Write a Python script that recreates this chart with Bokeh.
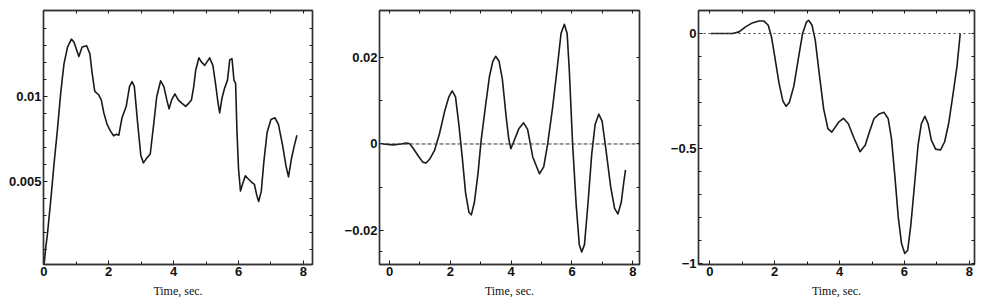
import numpy as np
from bokeh.plotting import figure
from bokeh.models import Range1d, FixedTicker, LinearAxis, Span
from bokeh.layouts import row
from bokeh.embed import file_html
from bokeh.resources import INLINE

# ---------------- data ----------------
t1 = [0.01, 0.06, 0.11, 0.21, 0.32, 0.42, 0.52, 0.62, 0.73, 0.85, 0.93, 1.08, 1.18, 1.32,
      1.42, 1.49, 1.57, 1.69, 1.77, 1.85, 1.95, 2.05, 2.15, 2.24, 2.31, 2.41, 2.54, 2.64,
      2.72, 2.79, 2.89, 2.99, 3.07, 3.17, 3.28, 3.38, 3.48, 3.60, 3.70, 3.79, 3.86, 3.94,
      4.04, 4.14, 4.25, 4.37, 4.47, 4.55, 4.62, 4.68, 4.78, 4.86, 4.96, 5.11, 5.21, 5.29,
      5.37, 5.42, 5.49, 5.57, 5.66, 5.73, 5.80, 5.86, 5.91, 5.95, 6.00, 6.06, 6.13, 6.21,
      6.29, 6.39, 6.49, 6.56, 6.62, 6.70, 6.78, 6.88, 7.00, 7.12, 7.23, 7.36, 7.46, 7.54,
      7.63, 7.72, 7.80]
y1 = [0.00017, 0.00113, 0.0019, 0.00383, 0.00614, 0.00807, 0.0102, 0.0119, 0.0129, 0.01337,
      0.01318, 0.01235, 0.0129, 0.01298, 0.0125, 0.01135, 0.0103, 0.0101, 0.0098, 0.00903,
      0.00836, 0.00798, 0.00769, 0.00778, 0.00772, 0.00875, 0.00942, 0.01058, 0.01087,
      0.01058, 0.00846, 0.00653, 0.0061, 0.00638, 0.00662, 0.00827, 0.0100, 0.01092, 0.01058,
      0.0098, 0.00927, 0.0098, 0.01015, 0.0098, 0.00961, 0.00942, 0.00961, 0.0098, 0.01058,
      0.01154, 0.01227, 0.01202, 0.01183, 0.01227, 0.01183, 0.01077, 0.00961, 0.00903,
      0.0099, 0.01048, 0.01096, 0.01216, 0.01221, 0.01096, 0.01077, 0.00807, 0.00576,
      0.00445, 0.00489, 0.00534, 0.00518, 0.00499, 0.00483, 0.00422, 0.00383, 0.00441,
      0.00614, 0.00788, 0.00865, 0.00875, 0.00836, 0.00711, 0.00595, 0.00528, 0.00634,
      0.00711, 0.00772]

t2 = [-0.22, 0.11, 0.38, 0.54, 0.65, 0.76, 0.93, 1.09, 1.20, 1.33, 1.48, 1.64, 1.81, 1.95,
      2.06, 2.17, 2.28, 2.39, 2.50, 2.61, 2.69, 2.79, 2.91, 3.01, 3.16, 3.29, 3.40, 3.49,
      3.60, 3.71, 3.84, 3.92, 3.99, 4.10, 4.25, 4.41, 4.54, 4.71, 4.93, 5.07, 5.20, 5.36,
      5.51, 5.64, 5.75, 5.84, 5.91, 6.02, 6.14, 6.24, 6.32, 6.41, 6.52, 6.65, 6.76, 6.88,
      6.99, 7.12, 7.27, 7.40, 7.51, 7.62, 7.70, 7.76]
y2 = [0.0, -0.0002, 0.0, 0.0002, 0.0001, -0.0008, -0.0026, -0.0042, -0.0044, -0.0034,
      -0.0015, 0.0023, 0.0075, 0.0109, 0.0123, 0.0109, 0.0045, -0.0030, -0.0113, -0.0158,
      -0.0164, -0.0135, -0.0068, 0.0007, 0.0090, 0.0158, 0.0192, 0.0203, 0.0192, 0.0150,
      0.0060, 0.0012, -0.0011, 0.0008, 0.0035, 0.0049, 0.0034, -0.0030, -0.0069, -0.0053,
      0.0, 0.0083, 0.0173, 0.0256, 0.0277, 0.0256, 0.0173, 0.0, -0.0143, -0.0233, -0.0250,
      -0.0233, -0.0143, -0.0023, 0.0045, 0.0069, 0.0053, -0.0015, -0.0098, -0.0149, -0.0162,
      -0.0135, -0.0090, -0.0060]

t3 = [0.03, 0.39, 0.70, 0.90, 1.10, 1.31, 1.51, 1.67, 1.80, 1.90, 2.00, 2.13, 2.25, 2.35,
      2.45, 2.59, 2.74, 2.86, 2.98, 3.05, 3.15, 3.25, 3.37, 3.51, 3.64, 3.76, 3.97, 4.12,
      4.27, 4.45, 4.63, 4.79, 4.92, 5.06, 5.22, 5.37, 5.50, 5.60, 5.71, 5.81, 5.91, 6.01,
      6.10, 6.20, 6.32, 6.42, 6.52, 6.63, 6.73, 6.83, 6.96, 7.11, 7.24, 7.37, 7.49, 7.62,
      7.72]
y3 = [0.0, 0.0, 0.0, 0.007, 0.029, 0.046, 0.054, 0.054, 0.036, -0.014, -0.100, -0.214,
      -0.293, -0.317, -0.300, -0.229, -0.100, 0.0, 0.050, 0.057, 0.036, -0.029, -0.171,
      -0.329, -0.414, -0.429, -0.386, -0.369, -0.393, -0.457, -0.514, -0.486, -0.429,
      -0.371, -0.350, -0.343, -0.371, -0.457, -0.629, -0.800, -0.914, -0.957, -0.943,
      -0.829, -0.643, -0.486, -0.393, -0.360, -0.393, -0.464, -0.503, -0.507, -0.471,
      -0.386, -0.271, -0.143, 0.0]

x_ticks = [0, 2, 4, 6, 8]
x_labels = {0: "0", 2: "2", 4: "4", 6: "6", 8: "8"}
y1_ticks = [0.005, 0.01]
y1_labels = {0.005: "0.005", 0.01: "0.01"}
y2_ticks = [-0.02, 0.0, 0.02]
y2_labels = {-0.02: "\u22120.02", 0: "0", 0.02: "0.02"}
y3_ticks = [-1.0, -0.5, 0.0]
y3_labels = {-1: "\u22121", -0.5: "\u22120.5", 0: "0"}

LABEL_FONT = "Liberation Sans"
TITLE_FONT = "Liberation Serif"
INK = "#1a1a1a"
FRAME = "#333333"


def style_axis(ax, show_labels):
    ax.axis_line_color = FRAME
    ax.axis_line_width = 1.4
    ax.major_tick_in = 4
    ax.major_tick_out = 0
    ax.minor_tick_in = 3
    ax.minor_tick_out = 0
    ax.major_tick_line_color = INK
    ax.minor_tick_line_color = INK
    if show_labels:
        ax.major_label_text_font = LABEL_FONT
        ax.major_label_text_font_style = "bold"
        ax.major_label_text_font_size = "13px"
        ax.major_label_text_color = "#111111"
        ax.major_label_standoff = 2
    else:
        ax.major_label_standoff = 0


def make_panel(t, y, xr, yr, yticks, yminor, ylabels, width, left, right, top, bottom):
    p = figure(width=width, height=305, output_backend="svg", toolbar_location=None,
               x_range=Range1d(*xr), y_range=Range1d(*yr),
               min_border_left=left, min_border_right=right,
               min_border_top=top, min_border_bottom=bottom)
    p.background_fill_color = "white"
    p.border_fill_color = "white"
    p.outline_line_color = FRAME
    p.outline_line_width = 1.4
    p.grid.visible = False

    x_minor = [1, 3, 5, 7]
    xa = p.xaxis[0]
    xa.ticker = FixedTicker(ticks=x_ticks, minor_ticks=x_minor)
    xa.major_label_overrides = x_labels
    style_axis(xa, True)
    xa.axis_label = "Time, sec."
    xa.axis_label_text_font = TITLE_FONT
    xa.axis_label_text_font_style = "normal"
    xa.axis_label_text_font_size = "12px"
    xa.axis_label_text_color = "#111111"
    xa.axis_label_standoff = 5

    ya = p.yaxis[0]
    ya.ticker = FixedTicker(ticks=yticks, minor_ticks=yminor)
    ya.major_label_overrides = ylabels
    style_axis(ya, True)

    # top and right axes: tick marks only (all as minor ticks, so no labels)
    top_ax = LinearAxis(ticker=FixedTicker(ticks=[], minor_ticks=sorted(x_ticks + x_minor)))
    style_axis(top_ax, False)
    p.add_layout(top_ax, "above")
    right_ax = LinearAxis(ticker=FixedTicker(ticks=[], minor_ticks=sorted(yticks + yminor)))
    style_axis(right_ax, False)
    p.add_layout(right_ax, "right")

    p.line(t, y, line_color=INK, line_width=1.6, line_join="round")
    return p


p1 = make_panel(t1, y1, (-0.01, 8.28), (0.00013, 0.01505), y1_ticks,
                [v for v in np.round(np.arange(0.001, 0.015, 0.001), 4).tolist()
                 if v not in (0.005, 0.01)], y1_labels,
                340, 43, 28, 6, 41)

p2 = make_panel(t2, y2, (-0.33, 8.22), (-0.0279, 0.0309), y2_ticks,
                [-0.025, -0.01, 0.01], y2_labels,
                325, 39, 26, 6, 38)
p2.add_layout(Span(location=0, dimension="width", line_color="#333333",
                   line_width=1.0, line_dash="4 2"))

p3 = make_panel(t3, y3, (-0.35, 8.16), (-1.005, 0.1), y3_ticks,
                [-0.9, -0.8, -0.7, -0.6, -0.4, -0.3, -0.2, -0.1], y3_labels,
                317, 33, 8, 10, 37)
p3.add_layout(Span(location=0, dimension="width", line_color="#444444",
                   line_width=1.0, line_dash="2 3"))

layout = row(p1, p2, p3, spacing=0)
open("out.html", "w").write(file_html(layout, INLINE))
